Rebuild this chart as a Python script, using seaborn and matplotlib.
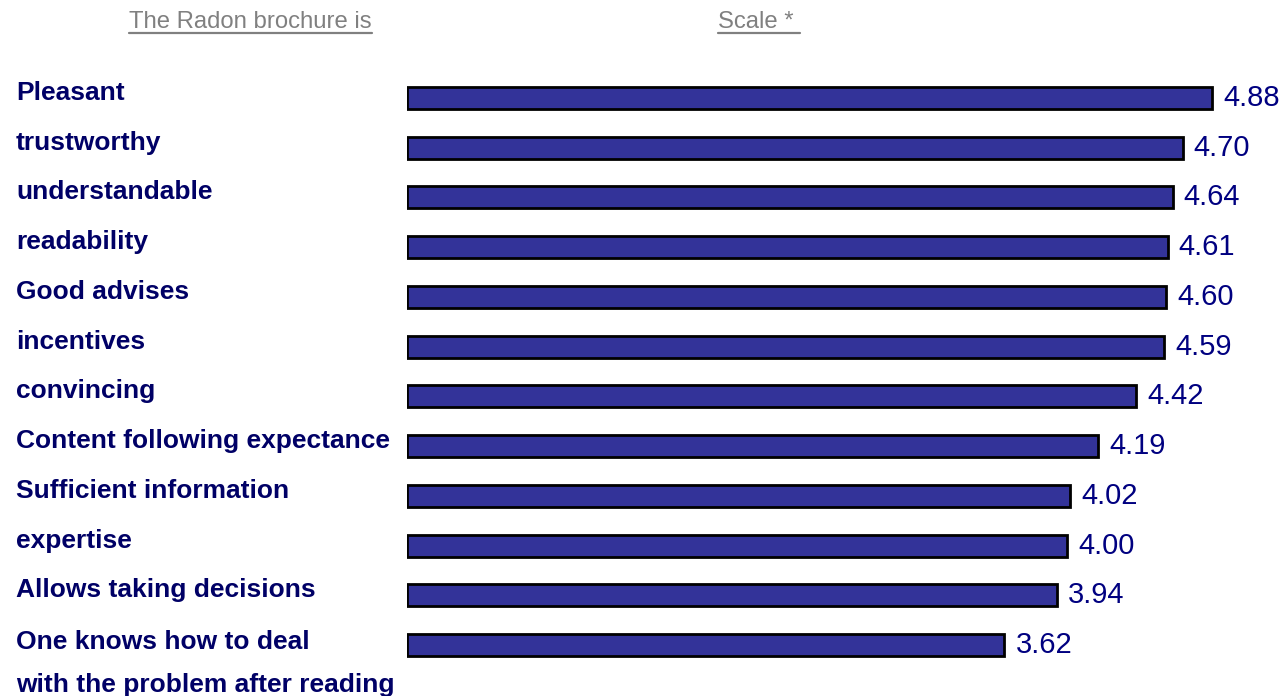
import matplotlib
matplotlib.use("Agg")
import matplotlib.pyplot as plt
import matplotlib.transforms as mtransforms
from matplotlib.lines import Line2D
import seaborn as sns

# Datos del grafico
attributes = [
    "Pleasant",
    "trustworthy",
    "understandable",
    "readability",
    "Good advises",
    "incentives",
    "convincing",
    "Content following expectance",
    "Sufficient information",
    "expertise",
    "Allows taking decisions",
    "One knows how to deal\nwith the problem after reading",
]
scores = [4.88, 4.70, 4.64, 4.61, 4.60, 4.59, 4.42, 4.19, 4.02, 4.00, 3.94, 3.62]
header_left = "The Radon brochure is"
header_right = "Scale *"

sns.set_style("white")
plt.rcParams["font.family"] = ["Liberation Sans", "DejaVu Sans"]

W, H = 1285, 696
fig = plt.figure(figsize=(W / 100, H / 100), dpi=100)
ax = fig.add_axes([407 / W, 26 / H, 874 / W, 597 / H])

sns.barplot(x=scores, y=attributes, orient="h", color="#333399", saturation=1,
            edgecolor="black", linewidth=2, width=0.44, ax=ax)
ax.set_xlim(0, 874 / 165)
ax.set_ylim(len(attributes) - 0.5, -0.5)
ax.axis("off")

# Etiquetas de valores
ax.bar_label(ax.containers[0], fmt="%.2f", padding=8, fontsize=21, color="#000080")

# Etiquetas de categorias alineadas a la izquierda
trans = mtransforms.blended_transform_factory(fig.transFigure, ax.transData)
for i, name in enumerate(attributes):
    if "\n" in name:
        ax.text(16 / W, i - 0.30, name, transform=trans, ha="left", va="top",
                fontsize=19, fontweight="bold", color="#000066", linespacing=2.0)
    else:
        ax.text(16 / W, i - 0.1, name, transform=trans, ha="left", va="center",
                fontsize=19, fontweight="bold", color="#000066")

# Encabezados subrayados
base_y = 1 - 28 / H
t1 = fig.text(129 / W, base_y, header_left, ha="left", va="baseline",
              fontsize=17.2, color="#808080")
t2 = fig.text(718 / W, base_y, header_right + " ", ha="left", va="baseline",
              fontsize=17.2, color="#808080")
fig.canvas.draw()
for t in (t1, t2):
    bb = t.get_window_extent()
    ly = 1 - 33 / H
    fig.add_artist(Line2D([bb.x0 / W, bb.x1 / W], [ly, ly], transform=fig.transFigure,
                          color="#808080", linewidth=1.6))

fig.savefig("out.png", dpi=100, facecolor="white")
